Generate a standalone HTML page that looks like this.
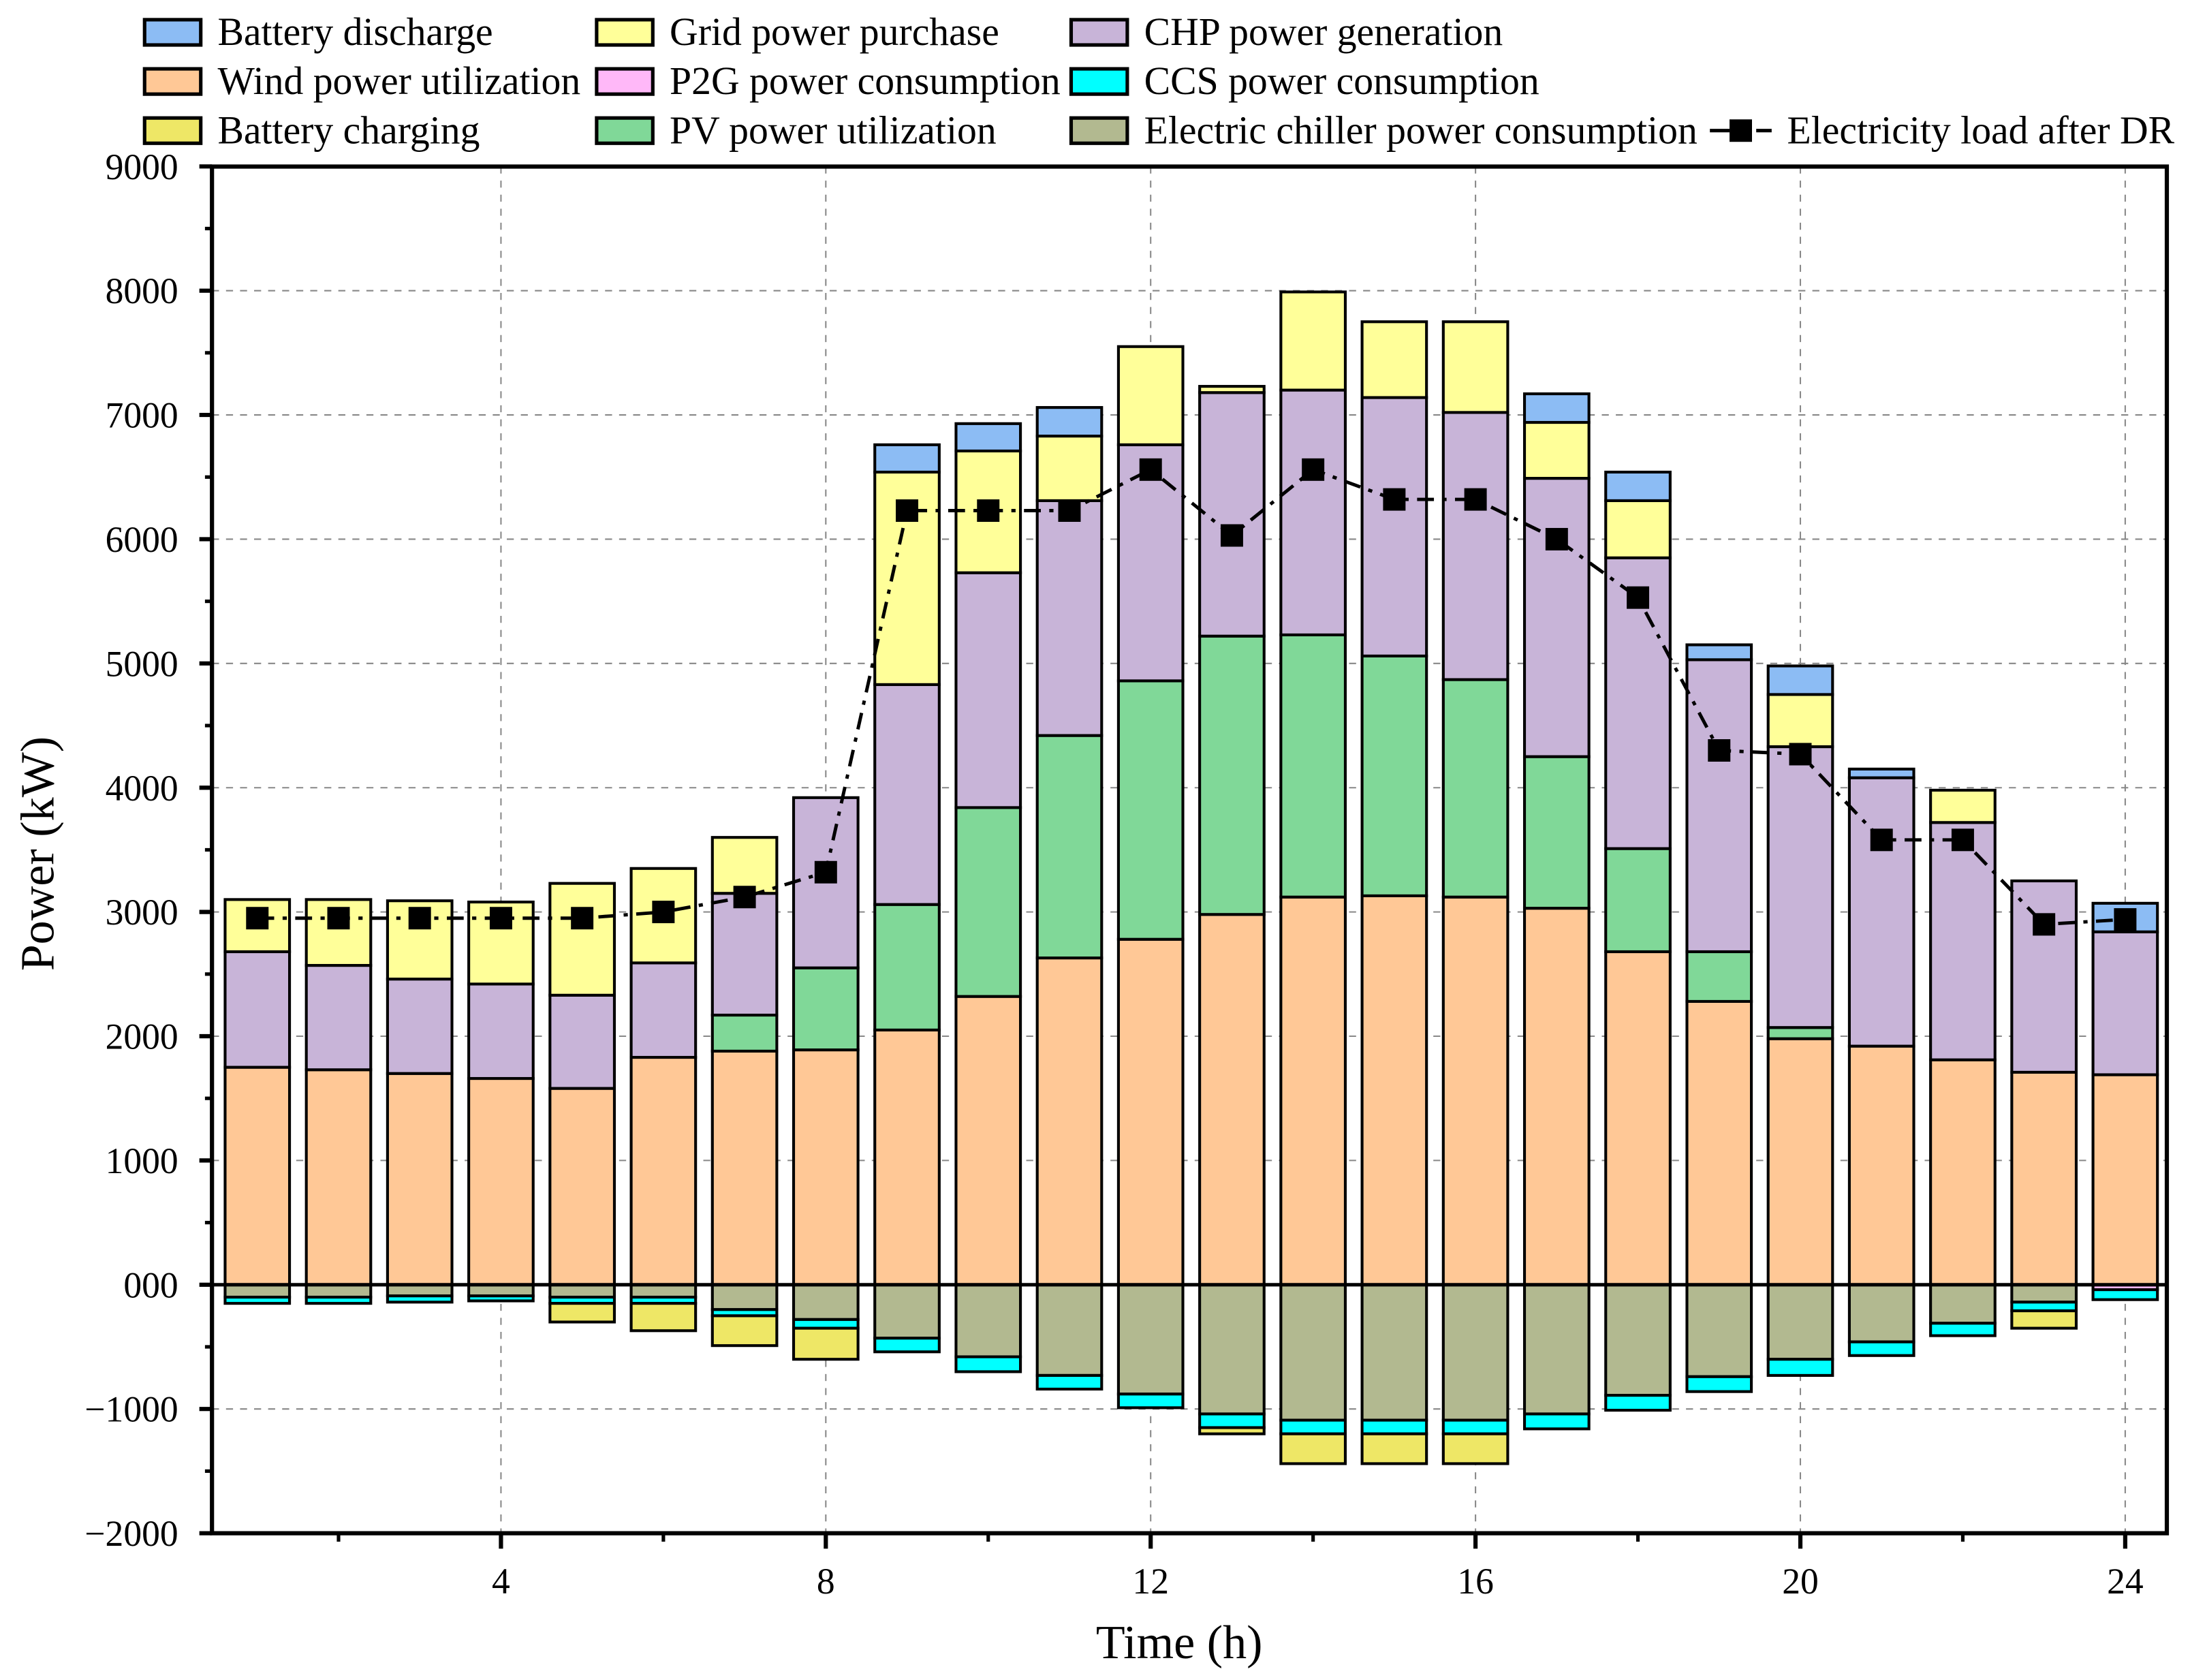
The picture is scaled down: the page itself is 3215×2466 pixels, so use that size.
<!DOCTYPE html>
<html><head><meta charset="utf-8"><style>
html,body{margin:0;padding:0;background:#fff;}
svg{display:block;font-family:"Liberation Serif","Times New Roman",serif;}
svg text{font-family:"Liberation Serif","Times New Roman",serif;}
</style></head><body>
<svg id="chart" width="3215" height="2466" viewBox="0 0 1560 1196.5" xmlns="http://www.w3.org/2000/svg">
<g id="grid"></g>
<g id="bars"></g>
<g id="line"></g>
<g id="axes"></g>
<g id="legend"></g>
<text x="0" y="0" transform="translate(38,608) rotate(-90)" text-anchor="middle" font-size="34">Power (kW)</text>
<text x="840" y="1181" text-anchor="middle" font-size="34">Time (h)</text>
</svg>
<script>
const hours=[1,2,3,4,5,6,7,8,9,10,11,12,13,14,15,16,17,18,19,20,21,22,23,24];
const wind=[1750,1730,1700,1660,1580,1830,1880,1890,2050,2320,2630,2780,2980,3120,3130,3120,3030,2680,2280,1980,1920,1810,1710,1690];
const pv=[0,0,0,0,0,0,290,660,1010,1520,1790,2080,2240,2110,1930,1750,1220,830,400,90,0,0,0,0];
const chp=[930,840,760,760,750,760,980,1370,1770,1890,1890,1900,1960,1970,2080,2150,2240,2340,2350,2260,2160,1910,1540,1150];
const grid=[420,530,630,660,900,760,450,0,1710,980,520,790,50,790,610,730,450,460,0,420,0,260,0,0];
const discharge=[0,0,0,0,0,0,0,0,220,220,230,0,0,0,0,0,230,230,120,230,70,0,0,230];
const chiller=[100,100,90,90,100,100,200,280,430,580,730,880,1040,1090,1090,1090,1040,890,740,600,460,310,140,0];
const p2g=[0,0,0,0,0,0,0,0,0,0,0,0,0,0,0,0,0,0,0,0,0,0,0,40];
const ccs=[50,50,50,40,50,50,50,70,110,120,110,110,110,110,110,110,120,120,120,130,110,100,70,80];
const charging=[0,0,0,0,150,220,240,250,0,0,0,0,50,240,240,240,0,0,0,0,0,0,140,0];
const load=[2950,2950,2950,2950,2950,3000,3120,3320,6230,6230,6230,6560,6030,6560,6320,6320,6000,5530,4300,4270,3580,3580,2900,2940];
const yTicks=[-2000,-1000,0,1000,2000,3000,4000,5000,6000,7000,8000,9000];
const yTickLabels=["\u22122000","\u22121000","000","1000","2000","3000","4000","5000","6000","7000","8000","9000"];
const xTicks=[4,8,12,16,20,24];

const NS="http://www.w3.org/2000/svg";
const L=151,R=1543.5,T=118.6,B=1092;
function y(v){return 915-(v/1000)*88.5;}
function x(h){return 183.3+(h-1)*57.85;}
const BW=45.9;
function mk(tag,attrs,parent){const e=document.createElementNS(NS,tag);for(const k in attrs)e.setAttribute(k,attrs[k]);parent.appendChild(e);return e;}
const gG=document.getElementById('grid'),gB=document.getElementById('bars'),gL=document.getElementById('line'),gA=document.getElementById('axes'),gLeg=document.getElementById('legend');

yTicks.forEach(v=>{if(v===-2000||v===9000)return;const l=mk('line',{x1:L,x2:R,y1:y(v),y2:y(v),stroke:'#888','stroke-width':1,'stroke-dasharray':'5,5'},gG);

});
xTicks.forEach(h=>{const l=mk('line',{x1:x(h),x2:x(h),y1:T,y2:B,stroke:'#888','stroke-width':1,'stroke-dasharray':'5,5'},gG);

});

const posSeries=[[wind,'#FFC896','wind'],[pv,'#80D898','pv'],[chp,'#C8B4D8','chp'],[grid,'#FFFF99','grid-purchase'],[discharge,'#8CBCF4','battery-discharge']];
const negSeries=[[chiller,'#B2B990','chiller'],[p2g,'#FFB8F8','p2g'],[ccs,'#00FFFF','ccs'],[charging,'#EEE766','battery-charging']];
hours.forEach((h,i)=>{
  let acc=0;
  posSeries.forEach(([arr,c,n])=>{const v=arr[i];if(v<=0)return;
    const r=mk('rect',{x:x(h)-BW/2,y:y(acc+v),width:BW,height:y(acc)-y(acc+v),fill:c,stroke:'#000','stroke-width':2},gB);
    
    
    acc+=v;});
  acc=0;
  negSeries.forEach(([arr,c,n])=>{const v=arr[i];if(v<=0)return;
    const r=mk('rect',{x:x(h)-BW/2,y:y(acc),width:BW,height:y(acc-v)-y(acc),fill:c,stroke:'#000','stroke-width':2},gB);
    
    
    acc-=v;});
});
const z=mk('line',{x1:L,x2:R,y1:y(0),y2:y(0),stroke:'#000','stroke-width':2.5},gA);



const pts=hours.map((h,i)=>x(h)+','+y(load[i])).join(' ');
const pl=mk('polyline',{points:pts,fill:'none',stroke:'#000','stroke-width':2.4,'stroke-dasharray':'12,6,3,6'},gL);


hours.forEach((h,i)=>{const m=mk('rect',{x:x(h)-8,y:y(load[i])-8,width:16,height:16,fill:'#000'},gL);

});

const fr=mk('rect',{x:L,y:T,width:R-L,height:B-T,fill:'none',stroke:'#000','stroke-width':3},gA);


yTicks.forEach((v,i)=>{
  const t=mk('line',{x1:L-9,x2:L,y1:y(v),y2:y(v),stroke:'#000','stroke-width':3},gA);
  
  
  if(v<9000){const m=mk('line',{x1:L-5,x2:L,y1:y(v+500),y2:y(v+500),stroke:'#000','stroke-width':2.5},gA);
  
  }
  const tx=mk('text',{x:L-24,y:y(v)+9,'text-anchor':'end','font-size':26},gA);tx.textContent=yTickLabels[i];
  
  
});
[2,6,10,14,18,22].forEach(h=>{const m=mk('line',{x1:x(h),x2:x(h),y1:B,y2:B+6,stroke:'#000','stroke-width':2.5},gA);

});
xTicks.forEach(h=>{const t=mk('line',{x1:x(h),x2:x(h),y1:B,y2:B+11,stroke:'#000','stroke-width':3},gA);


const tx=mk('text',{x:x(h),y:B+43,'text-anchor':'middle','font-size':26},gA);tx.textContent=String(h);

});

const leg=[[103,23,'#8CBCF4','Battery discharge'],[103,58,'#FFC896','Wind power utilization'],[103,93,'#EEE766','Battery charging'],
[425,23,'#FFFF99','Grid power purchase'],[425,58,'#FFB8F8','P2G power consumption'],[425,93,'#80D898','PV power utilization'],
[763,23,'#C8B4D8','CHP power generation'],[763,58,'#00FFFF','CCS power consumption'],[763,93,'#B2B990','Electric chiller power consumption']];
leg.forEach(([lx,ly,c,t])=>{
  const g=mk('g',{},gLeg);
  
  
  mk('rect',{x:lx,y:ly-9,width:40,height:18,fill:c,stroke:'#000','stroke-width':2.5},g);
  const tx=mk('text',{x:lx+52,y:ly+9,'font-size':28,'font-family':'"Liberation Serif", serif'},g);tx.textContent=t;
});
const lg=mk('g',{},gLeg);


mk('line',{x1:1218,x2:1262,y1:93,y2:93,stroke:'#000','stroke-width':2.5,'stroke-dasharray':'14,8,3,8'},lg);
mk('rect',{x:1232,y:85,width:16,height:16,fill:'#000'},lg);
const lt=mk('text',{x:1273,y:102,'font-size':28,'font-family':'"Liberation Serif", serif'},lg);lt.textContent='Electricity load after DR';
</script>
</body></html>
